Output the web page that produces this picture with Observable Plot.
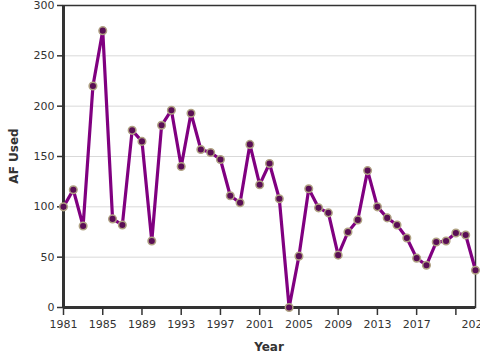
<!DOCTYPE html>
<html>
<head>
<meta charset="utf-8">
<script src="https://cdn.jsdelivr.net/npm/d3@7"></script>
<script src="https://cdn.jsdelivr.net/npm/@observablehq/plot@0.6"></script>
<style>
  html, body { margin: 0; padding: 0; background: #fff; }
  #chart { width: 480px; height: 360px; overflow: hidden; }
  svg { font-family: "DejaVu Sans", sans-serif; }
</style>
</head>
<body>
<div id="chart"></div>
<script>
const years = [1981,1982,1983,1984,1985,1986,1987,1988,1989,1990,1991,1992,1993,1994,1995,1996,1997,1998,1999,2000,2001,2002,2003,2004,2005,2006,2007,2008,2009,2010,2011,2012,2013,2014,2015,2016,2017,2018,2019,2020,2021,2022,2023];
const afUsed = [100,117,81,220,275,88,82,176,165,66,181,196,140,193,157,154,147,111,104,162,122,143,108,0,51,118,99,94,52,75,87,136,100,89,82,69,49,42,65,66,74,72,37];
const xTicks = [1981,1985,1989,1993,1997,2001,2005,2009,2013,2017,2021];
const yTicks = [0,50,100,150,200,250,300];

const data = years.map((y, i) => ({year: y, value: afUsed[i]}));

const chart = Plot.plot({
  width: 480,
  height: 360,
  marginLeft: 63,
  marginRight: 5,
  marginTop: 5,
  marginBottom: 53,
  style: {fontFamily: "DejaVu Sans, sans-serif", fontSize: "11px", color: "#333", overflow: "hidden"},
  x: {domain: [1981, 2023]},
  y: {domain: [0, 300]},
  marks: [
    Plot.gridY(yTicks, {stroke: "#d9d9d9", strokeOpacity: 1, strokeWidth: 1}),
    Plot.frame({stroke: "#333", strokeWidth: 1.5}),
    Plot.ruleX([1981], {stroke: "#333", strokeWidth: 3}),
    Plot.ruleY([0], {stroke: "#333", strokeWidth: 3}),
    Plot.axisY({ticks: yTicks, tickSize: 6, tickPadding: 3, label: null, fill: "#333", stroke: "#333", strokeWidth: 1.5}),
    Plot.axisX({ticks: xTicks, tickSize: 8, tickPadding: 5, label: null, tickFormat: d => d === 2021 ? "" : String(d), fill: "#333", stroke: "#333", strokeWidth: 1.5}),
    Plot.axisX({ticks: [2023], tickSize: 0, tickPadding: 13, label: null, tickFormat: d => String(d), fill: "#333"}),
    Plot.line(data, {x: "year", y: "value", stroke: "#800080", strokeWidth: 3.2}),
    Plot.dot(data, {x: "year", y: "value", r: 3.8, fill: "#5a0e55", stroke: "#b0a283", strokeWidth: 1.5})
  ]
});

const svg = d3.select(chart);
svg.append("text")
  .attr("x", 269).attr("y", 351)
  .attr("text-anchor", "middle")
  .attr("font-weight", "bold")
  .attr("font-size", 12)
  .attr("fill", "#333")
  .text("Year");
svg.append("text")
  .attr("transform", "translate(18,156) rotate(-90)")
  .attr("text-anchor", "middle")
  .attr("font-weight", "bold")
  .attr("font-size", 12)
  .attr("fill", "#333")
  .text("AF Used");

document.getElementById("chart").appendChild(chart);
</script>
</body>
</html>
